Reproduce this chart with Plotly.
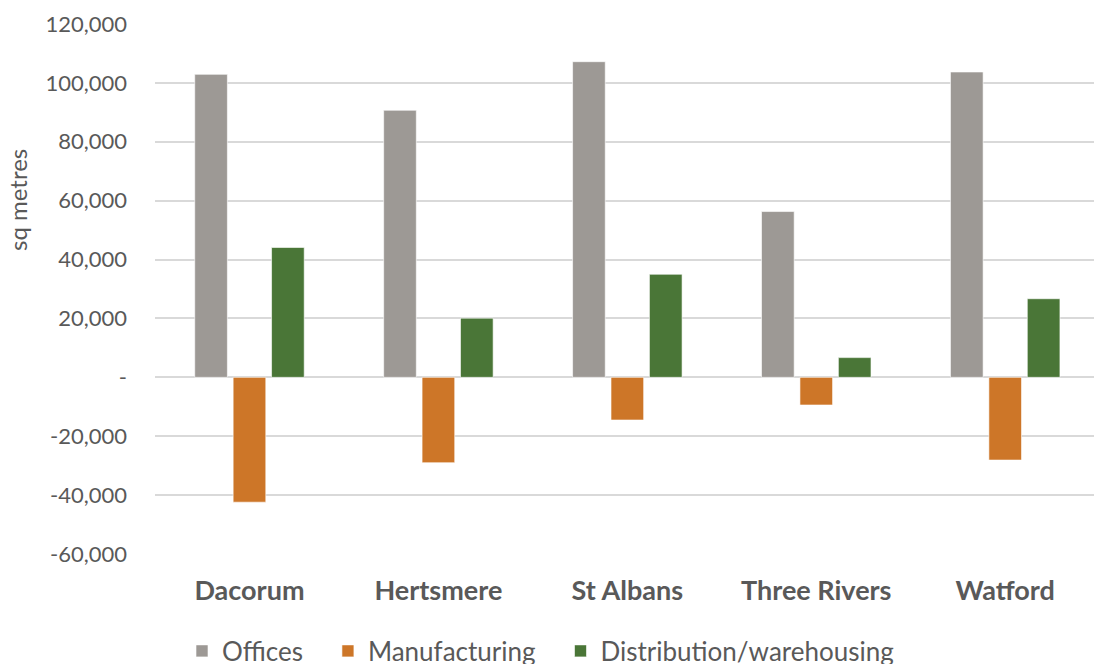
import plotly.graph_objects as go

districts = ["Dacorum", "Hertsmere", "St Albans", "Three Rivers", "Watford"]
offices = [102900, 90700, 107200, 56300, 103700]
manufacturing = [-42400, -29000, -14500, -9400, -28100]
distribution = [44100, 20100, 35000, 6700, 26700]

series_names = ["Offices", "Manufacturing", "Distribution/warehousing"]
series_colors = ["#9D9995", "#CD7628", "#4A7637"]

y_tickvals = [-60000, -40000, -20000, 0, 20000, 40000, 60000, 80000, 100000, 120000]
y_ticktext = ["-60,000", "-40,000", "-20,000", "-", "20,000", "40,000", "60,000",
              "80,000", "100,000", "120,000"]

FONT = "Lato, 'Open Sans', sans-serif"
TXT = "#595959"
PAD = "\u00a0" * 3

fig = go.Figure()
for name, vals, col in zip(series_names, [offices, manufacturing, distribution], series_colors):
    fig.add_trace(go.Bar(
        name=name + PAD, x=districts, y=vals,
        marker=dict(color=col, line=dict(color="rgba(255,255,255,0.6)", width=1)),
        hovertemplate=name + ": %{y:,}<extra></extra>",
    ))

fig.update_layout(
    width=1094, height=664,
    margin=dict(l=155, r=0, t=24, b=110, autoexpand=False),
    paper_bgcolor="white", plot_bgcolor="white",
    barmode="group", bargap=0.39, bargroupgap=0.15,
    font=dict(family=FONT, color=TXT),
    showlegend=True,
    legend=dict(
        orientation="h", x=27 / 939, xanchor="left", y=-0.183, yanchor="middle",
        font=dict(size=26, color=TXT, family=FONT),
        traceorder="normal",
    ),
    xaxis=dict(
        range=[-0.5, 4.47],
        tickfont=dict(size=27, color=TXT, family=FONT, weight="bold"),
        showgrid=False, zeroline=False, showline=False, ticks="",
        ticklabelstandoff=18,
        automargin=False,
    ),
    yaxis=dict(
        range=[-60000, 120000],
        tickvals=y_tickvals, ticktext=y_ticktext,
        tickfont=dict(size=22, color=TXT, family=FONT),
        showgrid=True, gridcolor="#D9D9D9", gridwidth=1.5,
        zeroline=True, zerolinecolor="#D9D9D9", zerolinewidth=1.5,
        showline=False, ticks="",
        ticklabelstandoff=27,
        automargin=False,
    ),
    annotations=[dict(
        text="sq metres", textangle=-90, xref="paper", yref="paper",
        x=(18 - 155) / 939, y=0.668, xanchor="center", yanchor="middle",
        showarrow=False, font=dict(size=24, color=TXT, family=FONT),
    )],
)

fig.write_html("out.html", config={"displayModeBar": False},
               post_script="document.body.style.margin='0';")
